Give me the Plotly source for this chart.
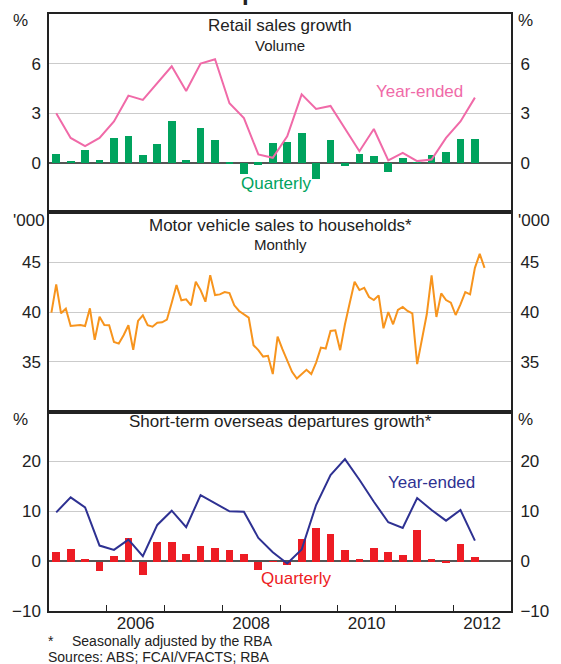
import plotly.graph_objects as go

# ---------------- data ----------------
# Quarterly periods Mar-2005 .. Jun-2012 (30 quarters); monthly Jan-2005 .. Jul-2012 (91 months)
q_start_year = 2005
n_quarters = 30
m_start_year = 2005
n_months = 91

# Retail sales growth (volume), %
retail_quarterly = [0.5, 0.1, 0.76, 0.16, 1.48, 1.6, 0.46, 1.12, 2.5, 0.16,
                    2.08, 1.36, -0.06, -0.66, -0.12, 1.18, 1.24, 1.78, -0.96, 1.36,
                    -0.2, 0.52, 0.4, -0.56, 0.28, 0.02, 0.46, 0.64, 1.42, 1.42]
retail_year_ended = [3.0, 1.5, 1.0, 1.5, 2.5, 4.06, 3.8, 4.8, 5.84, 4.34,
                     6.0, 6.26, 3.6, 2.7, 0.5, 0.3, 1.6, 4.14, 3.26, 3.44,
                     2.1, 0.7, 2.04, 0.14, 0.6, 0.1, 0.2, 1.5, 2.5, 3.94]

# Motor vehicle sales to households, monthly, '000
motor_sales = [39.93, 42.77, 39.87, 40.33, 38.6, 38.67, 38.7, 38.6, 40.37, 37.2,
               39.53, 38.7, 38.67, 37.0, 36.83, 37.67, 38.67, 36.2, 39.1, 39.67,
               38.67, 38.53, 38.93, 38.97, 39.23, 40.93, 42.7, 41.17, 41.27, 40.67,
               43.03, 42.2, 41.03, 43.7, 41.7, 41.77, 42.0, 41.9, 40.67, 40.1,
               39.77, 39.43, 36.67, 36.17, 35.53, 35.6, 33.77, 37.53, 36.27, 35.1,
               34.0, 33.33, 33.77, 34.2, 33.77, 34.93, 36.43, 36.33, 38.1, 38.17,
               36.17, 38.77, 40.93, 43.03, 42.2, 42.43, 41.5, 41.2, 41.67, 38.37,
               40.0, 38.77, 40.2, 40.5, 40.1, 39.87, 34.77, 37.1, 39.77, 43.67,
               39.5, 41.87, 41.2, 40.93, 39.7, 40.77, 42.0, 41.77, 44.43, 45.83,
               44.43]

# Short-term overseas departures growth, %
departures_quarterly = [2.0, 2.53, 0.53, -2.0, 1.13, 4.73, -2.67, 3.93, 3.93, 1.6,
                        3.13, 2.73, 2.33, 1.53, -1.8, 0.1, -0.67, 4.6, 6.73, 5.6,
                        2.33, 0.53, 2.73, 1.93, 1.33, 6.33, 0.53, -0.2, 3.6, 0.93]
departures_year_ended = [9.8, 12.8, 10.8, 3.13, 2.27, 4.33, 1.0, 7.27, 10.13, 6.8,
                         13.27, 11.67, 10.0, 9.93, 4.67, 1.8, -0.47, 2.33, 11.27, 17.27,
                         20.47, 16.33, 11.93, 7.8, 6.67, 12.67, 10.27, 8.13, 10.27, 4.13]

year_ticks = [2006, 2007, 2008, 2009, 2010, 2011, 2012]
year_labels = ["2006", "2008", "2010", "2012"]

# period mid-points in decimal years
q_x = [q_start_year + (i + 0.5) / 4 for i in range(n_quarters)]
m_x = [m_start_year + (i + 0.5) / 12 for i in range(n_months)]

# ---------------- style ----------------
FONT = "Liberation Sans, Arial, Helvetica, sans-serif"
TXT = "#222222"
PINK = "#F06AA8"
GREEN = "#00A35E"
ORANGE = "#F7941D"
NAVY = "#2E3192"
RED = "#ED1C24"
GRID = "#CBCBCB"
FRAME = "#222222"

fig = go.Figure()
fig.add_trace(go.Bar(x=q_x, y=retail_quarterly, width=0.135, marker_color=GREEN,
                     marker_line_width=0, xaxis="x", yaxis="y", showlegend=False))
fig.add_trace(go.Scatter(x=q_x, y=retail_year_ended, mode="lines", line=dict(color=PINK, width=2),
                         xaxis="x", yaxis="y", showlegend=False))
fig.add_trace(go.Scatter(x=m_x, y=motor_sales, mode="lines", line=dict(color=ORANGE, width=2),
                         xaxis="x2", yaxis="y2", showlegend=False))
fig.add_trace(go.Bar(x=q_x, y=departures_quarterly, width=0.135, marker_color=RED,
                     marker_line_width=0, xaxis="x3", yaxis="y3", showlegend=False))
fig.add_trace(go.Scatter(x=q_x, y=departures_year_ended, mode="lines", line=dict(color=NAVY, width=2),
                         xaxis="x3", yaxis="y3", showlegend=False))

H = 599.0
d3 = [0, 200 / H]
d2 = [200 / H, 400 / H]
d1 = [400 / H, 1]

xcommon = dict(range=[2005, 2013], showgrid=False, zeroline=False, showline=True, mirror=True,
               linecolor=FRAME, linewidth=1.5, ticks="", domain=[0, 1])
tickfont = dict(family=FONT, size=17, color=TXT)


def yleft(dom, rng, tv, anchor, zl=True):
    return dict(domain=dom, range=rng, tickvals=tv, anchor=anchor, showgrid=True, gridcolor=GRID,
                gridwidth=1, zeroline=zl, zerolinecolor="#555555", zerolinewidth=1.5,
                showline=True, mirror=True, linecolor=FRAME, linewidth=1.5,
                ticks="outside", ticklen=3, tickcolor="rgba(0,0,0,0)", tickfont=tickfont)


def yright(rng, tv, over, anchor):
    return dict(range=rng, tickvals=tv, overlaying=over, side="right", anchor=anchor,
                showgrid=False, zeroline=False, showline=False,
                ticks="outside", ticklen=5, tickcolor="rgba(0,0,0,0)", tickfont=tickfont)


fig.update_layout(
    width=561, height=664, autosize=False,
    margin=dict(l=46, r=42, t=12, b=53, pad=0),
    paper_bgcolor="white", plot_bgcolor="white",
    font=dict(family=FONT, color=TXT, size=17),
    bargap=0,
    xaxis=dict(xcommon, anchor="y", showticklabels=False),
    xaxis2=dict(xcommon, anchor="y2", matches="x", showticklabels=False),
    xaxis3=dict(xcommon, anchor="y3", matches="x",
                tickvals=[int(s) + 0.5 for s in year_labels], ticktext=year_labels,
                tickfont=tickfont, ticklabelstandoff=-4,
                minor=dict(tickvals=year_ticks, ticks="inside", ticklen=6, tickwidth=1,
                           tickcolor=FRAME, showgrid=False)),
    yaxis=yleft(d1, [-3, 9], [0, 3, 6], "x"),
    yaxis2=yleft(d2, [30, 50], [35, 40, 45], "x2", zl=False),
    yaxis3=yleft(d3, [-10, 30], [-10, 0, 10, 20], "x3"),
    yaxis4=yright([-3, 9], [0, 3, 6], "y", "x"),
    yaxis5=yright([30, 50], [35, 40, 45], "y2", "x2"),
    yaxis6=yright([-10, 30], [-10, 0, 10, 20], "y3", "x3"),
)
# invisible traces to activate the right-hand axes
fig.add_trace(go.Scatter(x=[2005], y=[0], xaxis="x", yaxis="y4", mode="markers",
                         marker=dict(opacity=0), showlegend=False, hoverinfo="skip"))
fig.add_trace(go.Scatter(x=[2005], y=[40], xaxis="x2", yaxis="y5", mode="markers",
                         marker=dict(opacity=0), showlegend=False, hoverinfo="skip"))
fig.add_trace(go.Scatter(x=[2005], y=[0], xaxis="x3", yaxis="y6", mode="markers",
                         marker=dict(opacity=0), showlegend=False, hoverinfo="skip"))


def py(px):
    return (611 - px) / H


def pxx(px):
    return (px - 46) / 473.0


ann = []


def text(t, x, y, size=17, color=TXT, xanchor="center", xref="paper", yref="paper"):
    ann.append(dict(text=t, x=x, y=y, xref=xref, yref=yref, showarrow=False, xanchor=xanchor,
                    yanchor="middle", font=dict(family=FONT, size=size, color=color)))


# panel titles
text("Retail sales growth", 0.5, py(24))
text("Volume", 0.5, py(43.5), size=15)
text("Motor vehicle sales to households*", 0.5, py(224))
text("Monthly", 0.5, py(243.5), size=15)
text("Short-term overseas departures growth*", 0.5, py(421))

# unit labels
for lab, y in [("%", 19), ("'000", 219), ("%", 419)]:
    text(lab, pxx(7), py(y), xanchor="left")
    text(lab, pxx(524), py(y), xanchor="left")

# series labels
text("Year-ended", 2011.41, 4.32, color=PINK, xref="x", yref="y")
text("Quarterly", 2008.93, -1.28, color=GREEN, xref="x", yref="y")
text("Year-ended", 2011.62, 15.7, color=NAVY, xref="x3", yref="y3")
text("Quarterly", 2009.28, -3.46, color=RED, xref="x3", yref="y3")

# footnotes
text("*", pxx(43), py(641), size=14, xanchor="left")
text("Seasonally adjusted by the RBA", pxx(68), py(641), size=14, xanchor="left")
text("Sources: ABS; FCAI/VFACTS; RBA", pxx(43), py(657), size=14, xanchor="left")

# chart title (mostly cut off above the picture)
ann.append(dict(text="<b>Consumption Indicators</b>", x=pxx(287), y=py(-11), xref="paper", yref="paper",
                showarrow=False, xanchor="center", yanchor="middle",
                font=dict(family=FONT, size=24, color=TXT)))

fig.update_layout(annotations=ann)
fig.write_html("out.html", config={"displayModeBar": False},
               post_script="document.body.style.margin='0';document.body.style.overflow='hidden';")
